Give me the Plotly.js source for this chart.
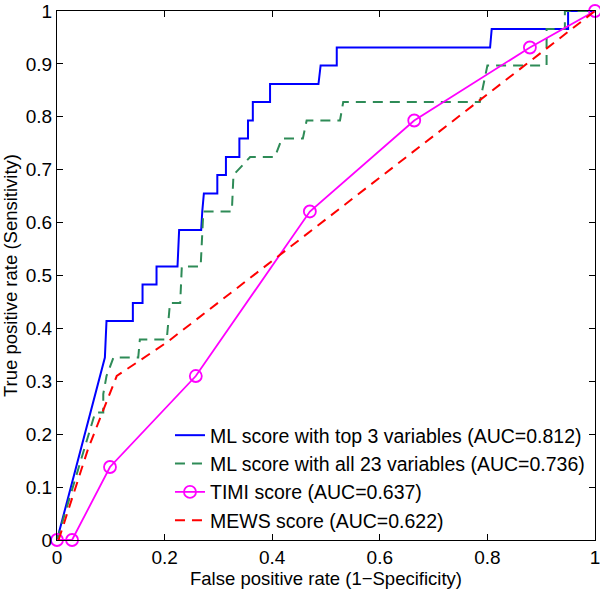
<!DOCTYPE html>
<html>
<head>
<meta charset="utf-8">
<script src="https://cdn.plot.ly/plotly-3.0.1.min.js"></script>
<style>
  html, body { margin: 0; padding: 0; background: #fff; }
  #roc { width: 600px; height: 592px; }
</style>
</head>
<body>
<div id="roc"></div>
<script>
// ROC curves, values (29 positives -> steps of ~0.0345)

// ML score, top 3 variables
var mlTop3X = [0, 0.089, 0.092, 0.141, 0.141, 0.159, 0.159, 0.185, 0.185, 0.224, 0.227, 0.268, 0.270, 0.273, 0.298, 0.298,
               0.314, 0.314, 0.339, 0.339, 0.355, 0.355, 0.364, 0.364, 0.396, 0.396, 0.486, 0.490, 0.520, 0.520,
               0.805, 0.808, 0.950, 0.950, 1];
var mlTop3Y = [0, 0.345, 0.414, 0.414, 0.448, 0.448, 0.483, 0.483, 0.517, 0.517, 0.586, 0.586, 0.621, 0.655, 0.655, 0.690,
               0.690, 0.724, 0.724, 0.759, 0.759, 0.793, 0.793, 0.828, 0.828, 0.862, 0.862, 0.897, 0.897, 0.931,
               0.931, 0.966, 0.966, 1, 1];

// ML score, all 23 variables
var mlAllX = [0, 0.071, 0.086, 0.086, 0.092, 0.105, 0.151, 0.154, 0.204, 0.210, 0.229, 0.232, 0.267, 0.272, 0.325, 0.328,
              0.359, 0.405, 0.418, 0.457, 0.464, 0.526, 0.532, 0.786, 0.800, 0.910, 0.910, 0.944, 0.944, 1];
var mlAllY = [0, 0.241, 0.241, 0.276, 0.310, 0.345, 0.345, 0.379, 0.379, 0.448, 0.448, 0.517, 0.517, 0.621, 0.621, 0.690,
              0.724, 0.724, 0.759, 0.759, 0.793, 0.793, 0.828, 0.828, 0.897, 0.897, 0.966, 0.966, 1, 1];

// TIMI score
var timiX = [0, 0.028, 0.0985, 0.258, 0.470, 0.664, 0.879, 1];
var timiY = [0, 0, 0.138, 0.310, 0.621, 0.793, 0.931, 1];

// MEWS score
var mewsX = [0.003, 0.058, 0.111, 0.206, 1];
var mewsY = [0, 0.173, 0.310, 0.375, 1];

var names = [
  'ML score with top 3 variables (AUC=0.812)',
  'ML score with all 23 variables (AUC=0.736)',
  'TIMI score (AUC=0.637)',
  'MEWS score (AUC=0.622)'
];

var font = 'Liberation Sans, Arial, Helvetica, sans-serif';

var trace0 = {
  x: mlTop3X, y: mlTop3Y, mode: 'lines', type: 'scatter', name: names[0],
  line: {color: '#0000ff', width: 2}
};
var trace1 = {
  x: mlAllX, y: mlAllY, mode: 'lines', type: 'scatter', name: names[1],
  line: {color: '#2e8b57', width: 2, dash: '10px,7px'}
};
var trace2 = {
  x: timiX, y: timiY, mode: 'lines+markers', type: 'scatter', name: names[2],
  line: {color: '#ff00ff', width: 1.8},
  marker: {symbol: 'circle-open', size: 12, color: '#ff00ff', line: {width: 1.8}},
  cliponaxis: false
};
var trace3 = {
  x: mewsX, y: mewsY, mode: 'lines', type: 'scatter', name: names[3],
  line: {color: '#ff0000', width: 2, dash: '10px,7px'}
};

var layout = {
  width: 600,
  height: 592,
  margin: {l: 57, r: 5, t: 11, b: 52},
  paper_bgcolor: '#fff',
  plot_bgcolor: '#fff',
  font: {family: font, size: 19, color: '#000'},
  showlegend: true,
  legend: {
    x: 0.21, y: 0.0, xanchor: 'left', yanchor: 'bottom',
    bgcolor: 'rgba(255,255,255,0)', borderwidth: 0,
    font: {family: font, size: 19.5, color: '#000'}
  },
  xaxis: {
    title: {text: 'False positive rate (1\u2212Specificity)', font: {size: 18.5}, standoff: 4},
    range: [0, 1], dtick: 0.2, tick0: 0,
    ticks: 'inside', ticklen: 6, tickcolor: '#000',
    showline: true, linecolor: '#000', linewidth: 1, mirror: 'ticks',
    showgrid: false, zeroline: false, ticklabeloverflow: 'allow',
    tickfont: {size: 19}
  },
  yaxis: {
    title: {text: 'True positive rate (Sensitivity)', font: {size: 18.5}, standoff: 4},
    range: [0, 1], dtick: 0.1, tick0: 0,
    ticks: 'inside', ticklen: 6, tickcolor: '#000',
    showline: true, linecolor: '#000', linewidth: 1, mirror: 'ticks',
    showgrid: false, zeroline: false, ticklabeloverflow: 'allow',
    tickfont: {size: 19}
  }
};

Plotly.newPlot('roc', [trace0, trace1, trace2, trace3], layout, {displayModeBar: false, responsive: false});
</script>
</body>
</html>
